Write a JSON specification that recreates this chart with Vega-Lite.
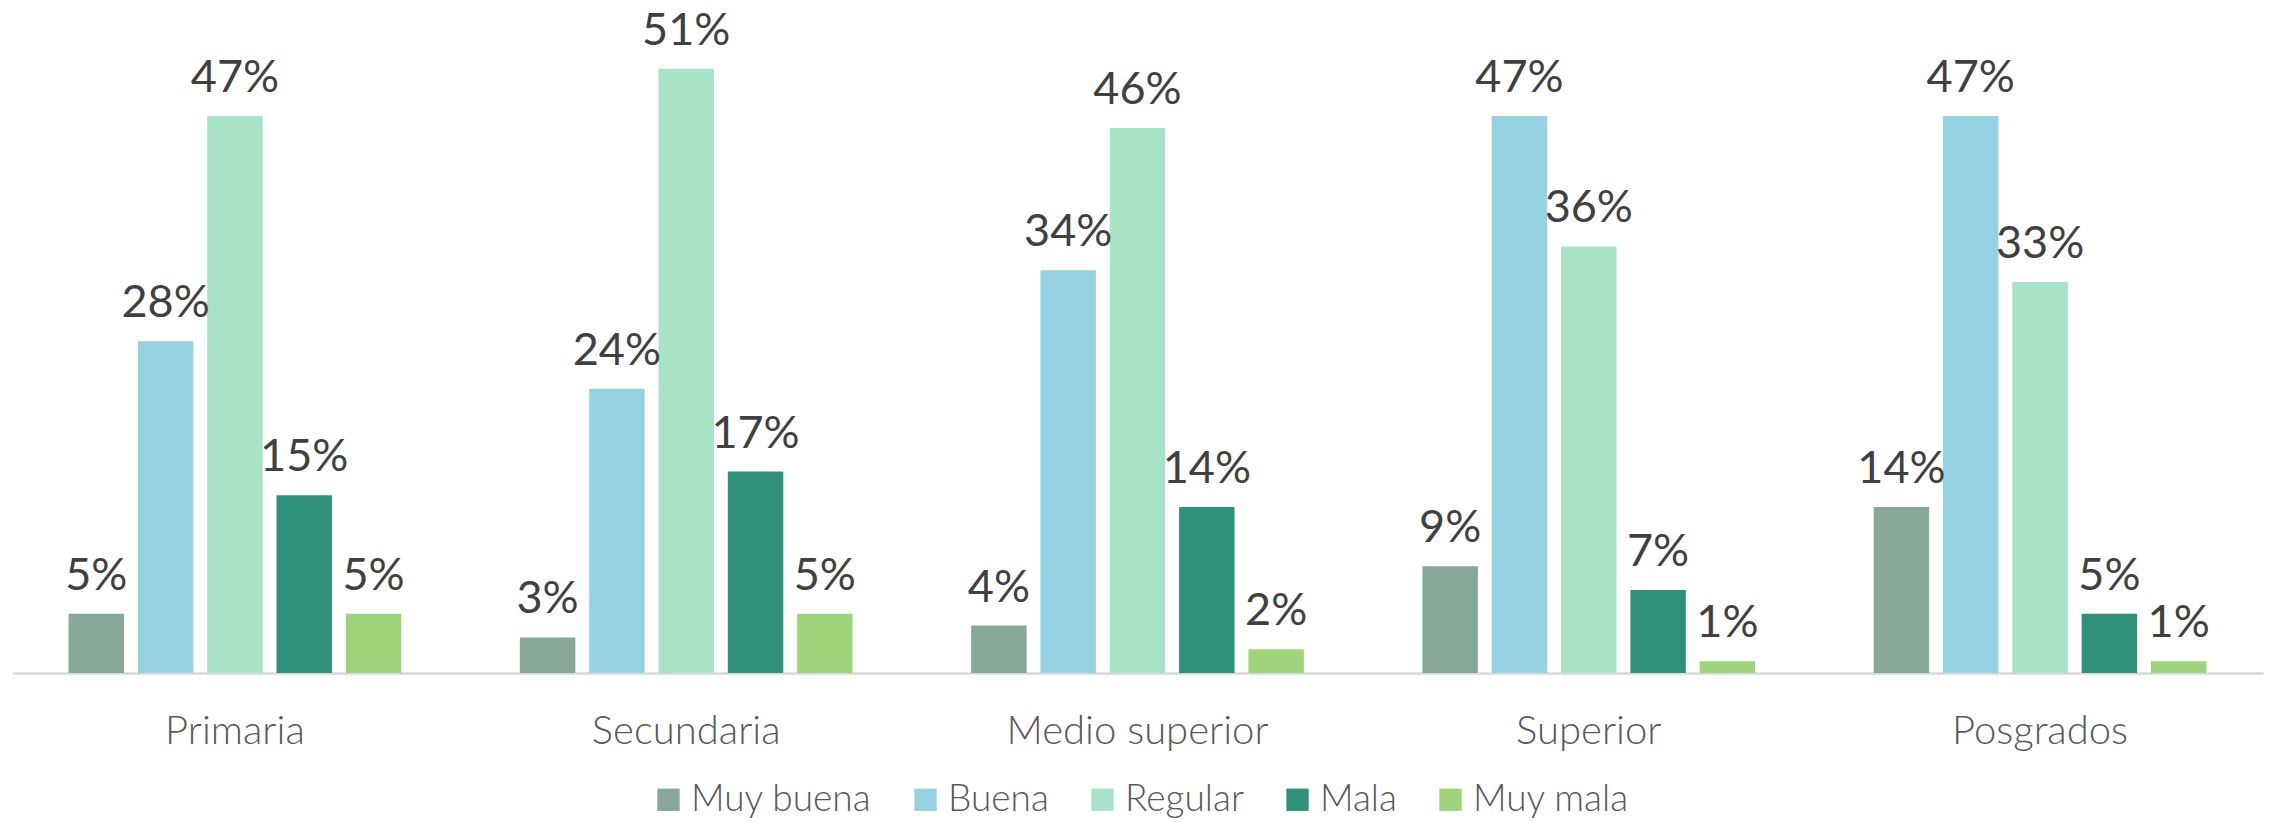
{
  "$schema": "https://vega.github.io/schema/vega-lite/v6.json",
  "autosize": {"type": "none"},
  "width": 2251,
  "height": 673,
  "padding": {"left": 12, "top": 0, "right": 7, "bottom": 149},
  "background": "white",
  "config": {
    "view": {"stroke": null},
    "font": "Lato"
  },
  "data": {
    "values": [
      {"nivel": "Primaria", "cat": "Muy buena", "v": 0.05, "lbl": "5%"},
      {"nivel": "Primaria", "cat": "Buena", "v": 0.28, "lbl": "28%"},
      {"nivel": "Primaria", "cat": "Regular", "v": 0.47, "lbl": "47%"},
      {"nivel": "Primaria", "cat": "Mala", "v": 0.15, "lbl": "15%"},
      {"nivel": "Primaria", "cat": "Muy mala", "v": 0.05, "lbl": "5%"},
      {"nivel": "Secundaria", "cat": "Muy buena", "v": 0.03, "lbl": "3%"},
      {"nivel": "Secundaria", "cat": "Buena", "v": 0.24, "lbl": "24%"},
      {"nivel": "Secundaria", "cat": "Regular", "v": 0.51, "lbl": "51%"},
      {"nivel": "Secundaria", "cat": "Mala", "v": 0.17, "lbl": "17%"},
      {"nivel": "Secundaria", "cat": "Muy mala", "v": 0.05, "lbl": "5%"},
      {"nivel": "Medio superior", "cat": "Muy buena", "v": 0.04, "lbl": "4%"},
      {"nivel": "Medio superior", "cat": "Buena", "v": 0.34, "lbl": "34%"},
      {"nivel": "Medio superior", "cat": "Regular", "v": 0.46, "lbl": "46%"},
      {"nivel": "Medio superior", "cat": "Mala", "v": 0.14, "lbl": "14%"},
      {"nivel": "Medio superior", "cat": "Muy mala", "v": 0.02, "lbl": "2%"},
      {"nivel": "Superior", "cat": "Muy buena", "v": 0.09, "lbl": "9%"},
      {"nivel": "Superior", "cat": "Buena", "v": 0.47, "lbl": "47%"},
      {"nivel": "Superior", "cat": "Regular", "v": 0.36, "lbl": "36%"},
      {"nivel": "Superior", "cat": "Mala", "v": 0.07, "lbl": "7%"},
      {"nivel": "Superior", "cat": "Muy mala", "v": 0.01, "lbl": "1%"},
      {"nivel": "Posgrados", "cat": "Muy buena", "v": 0.14, "lbl": "14%"},
      {"nivel": "Posgrados", "cat": "Buena", "v": 0.47, "lbl": "47%"},
      {"nivel": "Posgrados", "cat": "Regular", "v": 0.33, "lbl": "33%"},
      {"nivel": "Posgrados", "cat": "Mala", "v": 0.05, "lbl": "5%"},
      {"nivel": "Posgrados", "cat": "Muy mala", "v": 0.01, "lbl": "1%"}
    ]
  },
  "encoding": {
    "x": {
      "field": "nivel", "type": "nominal", "sort": null, "title": null,
      "scale": {"paddingInner": 0.232, "paddingOuter": 0.11},
      "axis": {
        "labelAngle": 0, "ticks": false, "tickSize": 0, "grid": false,
        "domainColor": "#d9d9d9", "domainWidth": 2.5,
        "labelFont": "Lato", "labelFontWeight": 300, "labelFontSize": 40,
        "labelColor": "#595959", "labelBaseline": "alphabetic", "labelPadding": 70,
        "labelLimit": 0
      }
    },
    "xOffset": {
      "field": "cat", "type": "nominal", "sort": ["Muy buena", "Buena", "Regular", "Mala", "Muy mala"],
      "scale": {"paddingInner": 0.2, "paddingOuter": 0.1}
    },
    "y": {
      "field": "v", "type": "quantitative",
      "scale": {"domain": [0, 0.568], "nice": false},
      "axis": null
    }
  },
  "layer": [
    {
      "mark": {"type": "bar"},
      "encoding": {
        "color": {
          "field": "cat", "type": "nominal",
          "sort": ["Muy buena", "Buena", "Regular", "Mala", "Muy mala"],
          "scale": {
            "domain": ["Muy buena", "Buena", "Regular", "Mala", "Muy mala"],
            "range": ["#88A897", "#96D1E2", "#A8E3C7", "#2F917A", "#A0D47C"]
          },
          "legend": {
            "title": null, "orient": "none", "direction": "horizontal",
            "legendX": 638, "legendY": 781,
            "symbolType": "square", "symbolSize": 500, "symbolStrokeWidth": 0,
            "labelFont": "Lato", "labelFontWeight": 300, "labelFontSize": 37,
            "labelColor": "#595959", "labelOffset": 4, "columnPadding": 35,
            "labelLimit": 0, "padding": 0
          }
        }
      }
    },
    {
      "mark": {"type": "text", "baseline": "alphabetic", "dy": -24, "fontSize": 45, "color": "#404040", "font": "Lato"},
      "encoding": {
        "text": {"field": "lbl", "type": "nominal"}
      }
    }
  ]
}
